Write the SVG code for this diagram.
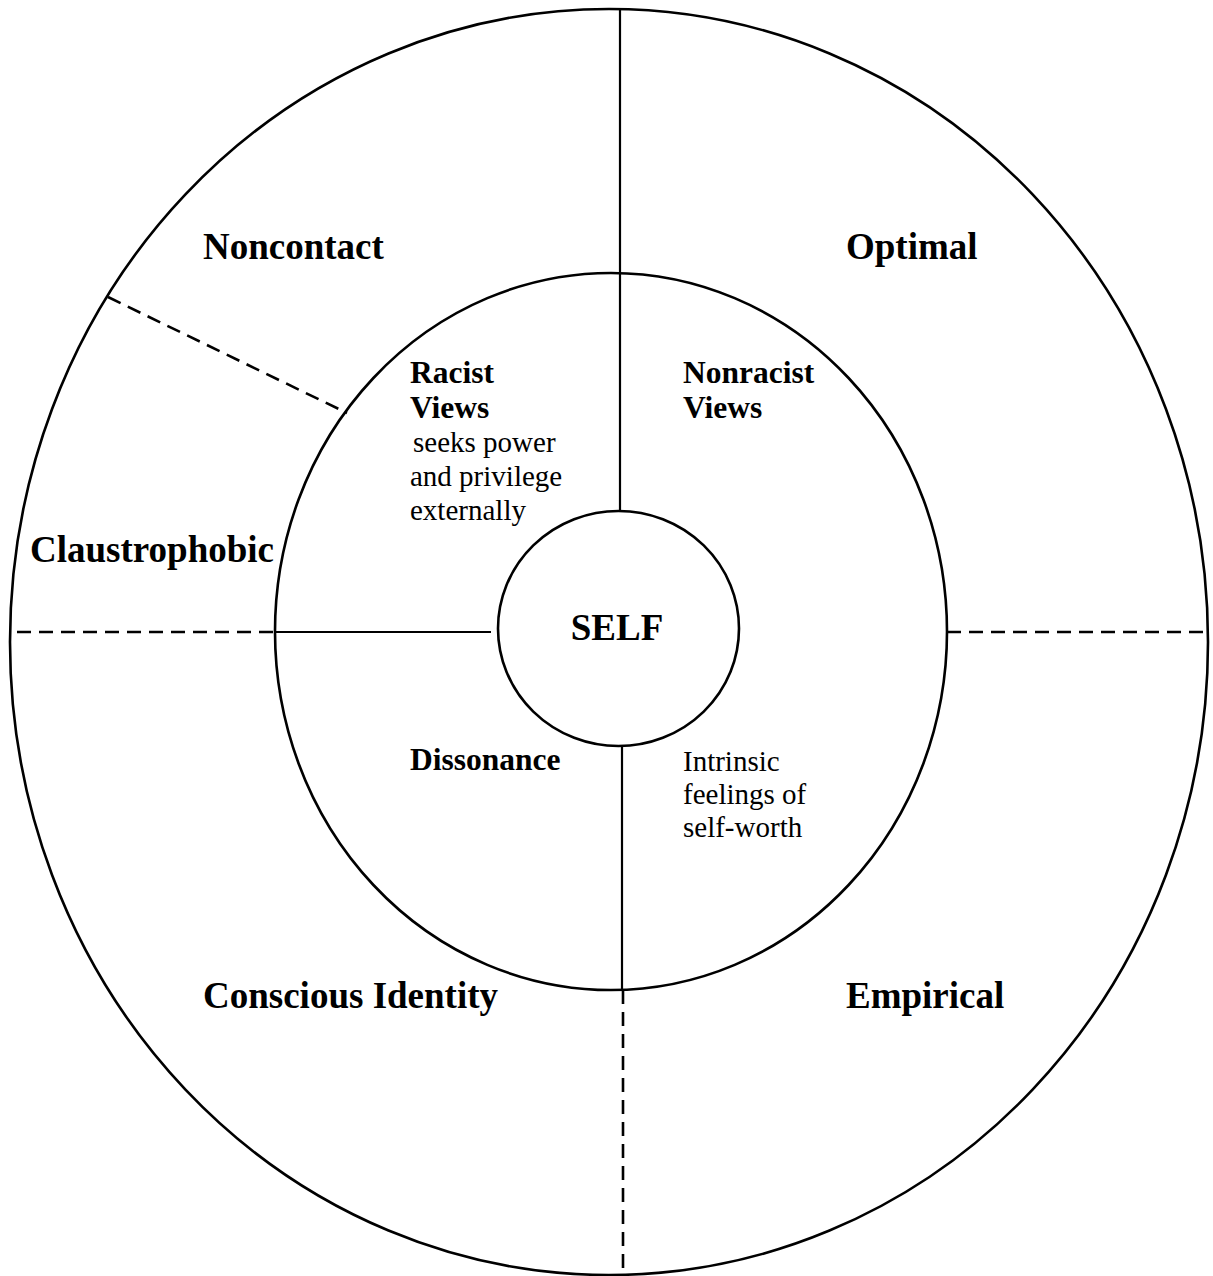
<svg xmlns="http://www.w3.org/2000/svg" width="1213" height="1276" viewBox="0 0 1213 1276">
  <style>
    .ring { fill: none; stroke: #000; stroke-width: 2.6; }
    .solid { stroke: #000; stroke-width: 2.2; fill: none; }
    .dash { stroke: #000; stroke-width: 2.6; stroke-dasharray: 14 8; fill: none; }
    .big { font-family: "Liberation Serif", "Times New Roman", serif; font-weight: bold; font-size: 37px; fill: #000; }
    .mid { font-family: "Liberation Serif", "Times New Roman", serif; font-weight: bold; font-size: 31.5px; fill: #000; }
    .small { font-family: "Liberation Serif", "Times New Roman", serif; font-size: 29px; fill: #000; }
  </style>
  <rect width="1213" height="1276" fill="#fff"/>

  <!-- dividing lines between the regions -->
  <g id="connectors">
    <line class="solid" x1="620" y1="9" x2="620" y2="511"/>
    <line class="solid" x1="622" y1="746" x2="622" y2="990"/>
    <line class="dash" x1="623" y1="990" x2="623" y2="1275"/>
    <line class="solid" x1="275" y1="632" x2="491" y2="632"/>
    <line class="dash" x1="17" y1="632" x2="275" y2="632"/>
    <line class="dash" x1="947" y1="632" x2="1203" y2="632"/>
    <line class="dash" x1="108" y1="297" x2="347" y2="413"/>
  </g>

  <!-- outer ring: identity states -->
  <g id="outer">
    <ellipse class="ring" cx="609" cy="642" rx="599" ry="633"/>
    <text class="big" x="203" y="259">Noncontact</text>
    <text class="big" x="846" y="259">Optimal</text>
    <text class="big" x="30" y="562">Claustrophobic</text>
    <text class="big" x="203" y="1008">Conscious Identity</text>
    <text class="big" x="846" y="1008">Empirical</text>
  </g>

  <!-- middle ring: views -->
  <g id="middle">
    <ellipse class="ring" cx="611" cy="631.5" rx="336" ry="358.5"/>
    <text class="mid" x="410" y="383">Racist</text>
    <text class="mid" x="410" y="418">Views</text>
    <text class="small" x="413" y="452">seeks power</text>
    <text class="small" x="410" y="486">and privilege</text>
    <text class="small" x="410" y="520">externally</text>
    <text class="mid" x="683" y="383">Nonracist</text>
    <text class="mid" x="683" y="418">Views</text>
    <text class="mid" x="410" y="770">Dissonance</text>
    <text class="small" x="683" y="771">Intrinsic</text>
    <text class="small" x="683" y="804">feelings of</text>
    <text class="small" x="683" y="837">self-worth</text>
  </g>

  <!-- core -->
  <g id="self">
    <ellipse class="ring" cx="618.5" cy="628.5" rx="120.5" ry="117.5"/>
    <text class="big" x="617" y="640" text-anchor="middle">SELF</text>
  </g>
</svg>
